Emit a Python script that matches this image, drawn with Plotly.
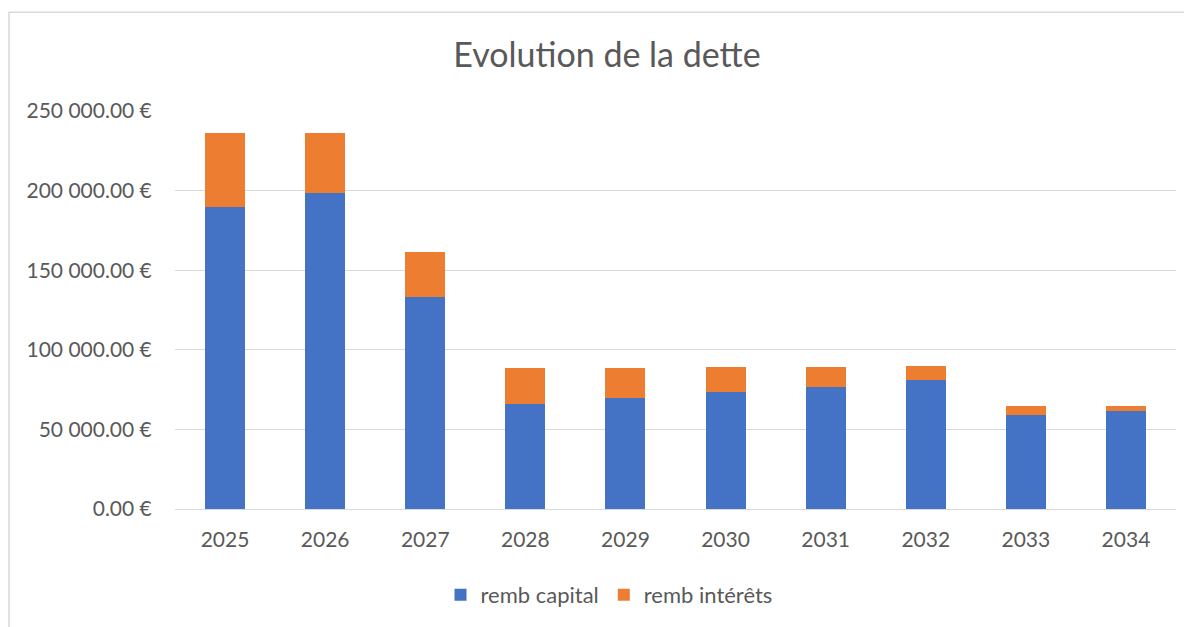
import plotly.graph_objects as go

years = ["2025", "2026", "2027", "2028", "2029", "2030", "2031", "2032", "2033", "2034"]
remb_capital = [189700, 198400, 133300, 66200, 69800, 73300, 76700, 80800, 58900, 61600]
remb_interets = [46300, 37600, 27900, 22300, 19000, 15700, 12700, 9000, 5600, 3100]

FONT = "Lato"
TXT = "#595959"

# page has 8px body margin -> figure origin at (8, 8) on screen
W, H = 1184, 619
L, R, T, B = 167, 16, 103, 117
PW = W - L - R
PH = H - T - B

fig = go.Figure()
fig.add_trace(go.Bar(name="remb capital", x=years, y=remb_capital,
                     marker=dict(color="#4472C4", line=dict(width=0))))
fig.add_trace(go.Bar(name="remb intérêts", x=years, y=remb_interets,
                     marker=dict(color="#ED7D31", line=dict(width=0))))

fig.update_layout(
    barmode="stack",
    bargap=0.6,
    width=W, height=H,
    margin=dict(l=L, r=R, t=T, b=B),
    paper_bgcolor="white", plot_bgcolor="white",
    separators=". ",
    font=dict(family=FONT, color=TXT, size=21),
    title=dict(text="Evolution de la dette", x=(599 - L) / PW, xref="paper", xanchor="center",
               y=1 - 47 / H, yanchor="middle",
               font=dict(family=FONT, size=34, color=TXT)),
    showlegend=True,
    legend=dict(orientation="h", x=(601 - L) / PW, xanchor="center",
                y=(PH + T - 587) / PH, yanchor="middle",
                font=dict(size=22, color=TXT), traceorder="normal",
                itemwidth=30, bgcolor="rgba(0,0,0,0)"),
    xaxis=dict(showgrid=False, showline=True, linecolor="#D9D9D9", linewidth=1,
               ticks="outside", ticklen=12, tickcolor="rgba(0,0,0,0)",
               tickfont=dict(size=21, color=TXT)),
    yaxis=dict(range=[0, 250000], dtick=50000, tickformat=",.2f", ticksuffix=" €",
               showgrid=True, gridcolor="#D9D9D9", gridwidth=1, zeroline=False,
               showline=False, ticks="outside", ticklen=18, tickcolor="rgba(0,0,0,0)",
               tickfont=dict(size=21, color=TXT)),
    shapes=[dict(type="rect", xref="paper", yref="paper",
                 x0=(1 - L) / PW, x1=1.2, y0=-1.0, y1=(PH + T - 4) / PH,
                 line=dict(color="#D9D9D9", width=1.5), fillcolor="rgba(0,0,0,0)",
                 layer="below")],
)

fig.write_html("out.html")
